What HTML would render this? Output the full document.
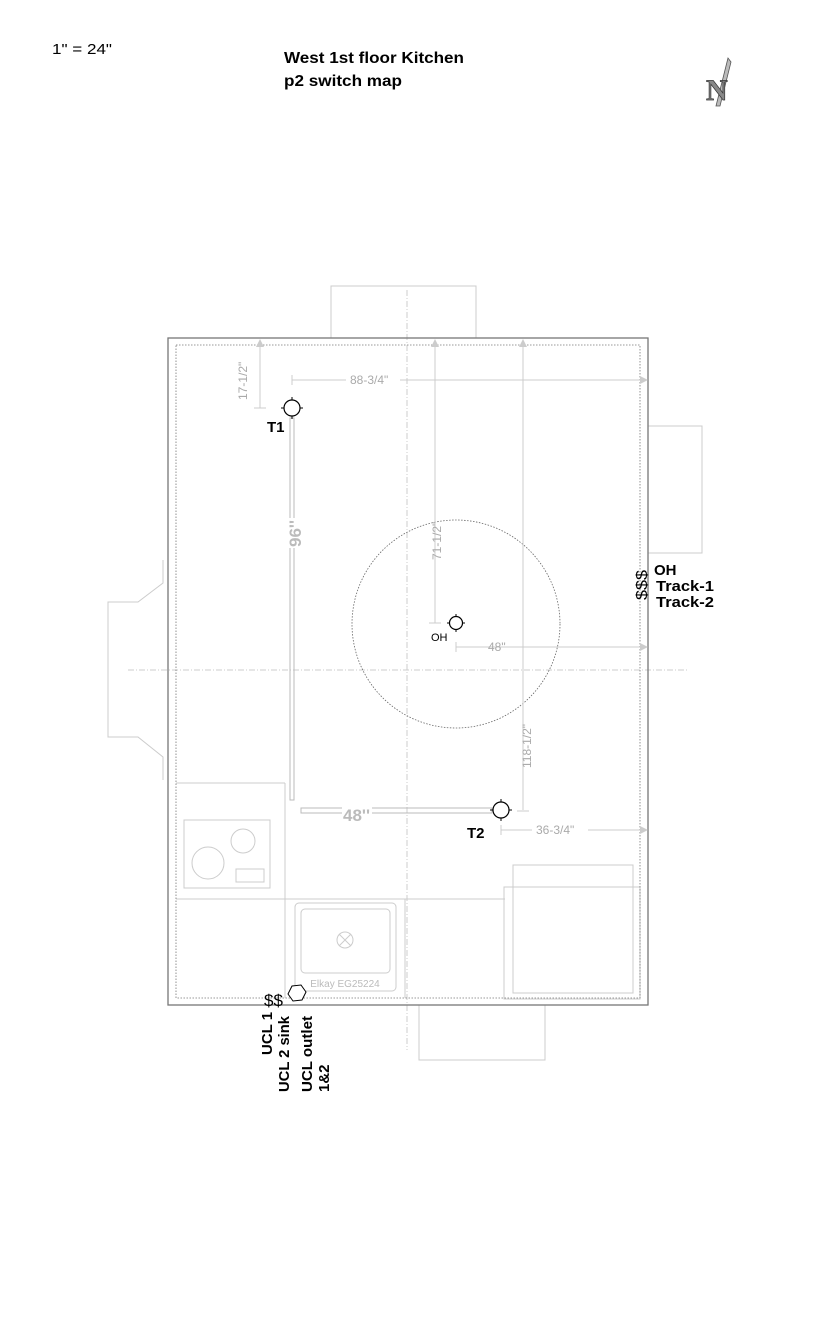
<!DOCTYPE html>
<html><head><meta charset="utf-8"><style>html,body{margin:0;padding:0;background:#fff}svg{display:block}</style></head><body>
<svg width="816" height="1344" viewBox="0 0 816 1344" xmlns="http://www.w3.org/2000/svg" font-family="Liberation Sans, sans-serif">
<text x="52" y="54" font-size="15" textLength="60" lengthAdjust="spacingAndGlyphs">1" = 24"</text>
<text x="284" y="63" font-size="16" font-weight="bold" textLength="180" lengthAdjust="spacingAndGlyphs">West 1st floor Kitchen</text>
<text x="284" y="86" font-size="16" font-weight="bold" textLength="118" lengthAdjust="spacingAndGlyphs">p2 switch map</text>
<g>
<path d="M728 58 L716 106 L720 106 L731 62 Z" fill="#bbb" stroke="#555" stroke-width="0.8"/>
<text x="706" y="100" font-size="30" font-weight="bold" font-family="Liberation Serif, serif" fill="#888" stroke="#333" stroke-width="0.7">N</text>
</g>
<g fill="none" stroke="#ccc" stroke-width="1">
<rect x="331" y="286" width="145" height="52"/>
<rect x="648" y="426" width="54" height="127"/>
<rect x="419" y="1005" width="126" height="55"/>
<polyline points="163,560 163,583 138,602 108,602 108,737 138,737 163,757 163,780"/>
<line x1="176" y1="783" x2="285" y2="783"/>
<line x1="176" y1="899" x2="505" y2="899"/>
<line x1="285" y1="783" x2="285" y2="998"/>
<line x1="405" y1="899" x2="405" y2="998"/>
<rect x="184" y="820" width="86" height="68"/>
<circle cx="208" cy="863" r="16"/>
<circle cx="243" cy="841" r="12"/>
<rect x="236" y="869" width="28" height="13"/>
<rect x="295" y="903" width="101" height="88" rx="4"/>
<rect x="301" y="909" width="89" height="64" rx="4"/>
<circle cx="345" cy="940" r="8"/>
<line x1="339" y1="934" x2="351" y2="946"/><line x1="351" y1="934" x2="339" y2="946"/>
<rect x="504" y="887" width="136" height="112"/>
<rect x="513" y="865" width="120" height="128"/>
</g>
<text x="345" y="987" font-size="10" fill="#bbb" text-anchor="middle">Elkay EG25224</text>
<g stroke="#ccc" stroke-width="1" stroke-dasharray="6,2,1,2" fill="none">
<line x1="407" y1="290" x2="407" y2="1050"/>
<line x1="128" y1="670" x2="688" y2="670"/>
</g>
<rect x="168" y="338" width="480" height="667" fill="none" stroke="#777" stroke-width="1.3"/>
<rect x="176" y="345" width="464" height="653" fill="none" stroke="#777" stroke-width="0.8" stroke-dasharray="1.5,1.5"/>
<circle cx="456" cy="624" r="104" fill="none" stroke="#666" stroke-width="0.8" stroke-dasharray="1.5,1.5"/>
<g stroke="#ccc" stroke-width="1" fill="none">
<line x1="260" y1="342" x2="260" y2="408"/><line x1="254" y1="408" x2="266" y2="408"/>
<line x1="292" y1="375" x2="292" y2="385"/><line x1="292" y1="380" x2="645" y2="380"/>
<line x1="435" y1="342" x2="435" y2="623"/><line x1="429" y1="623" x2="441" y2="623"/>
<line x1="456" y1="642" x2="456" y2="652"/><line x1="456" y1="647" x2="645" y2="647"/>
<line x1="523" y1="342" x2="523" y2="810"/><line x1="517" y1="811" x2="529" y2="811"/>
<line x1="501" y1="825" x2="501" y2="835"/><line x1="501" y1="830" x2="645" y2="830"/>
<rect x="290" y="418" width="4" height="382" stroke="#bbb"/>
<rect x="301" y="808" width="191" height="5" stroke="#bbb"/>
</g>
<g fill="#ccc">
<path d="M260 339 l-4 8 l8 0 z"/><path d="M435 339 l-4 8 l8 0 z"/><path d="M523 339 l-4 8 l8 0 z"/>
<path d="M648 380 l-8 -4 l0 8 z"/><path d="M648 647 l-8 -4 l0 8 z"/><path d="M648 830 l-8 -4 l0 8 z"/>
</g>
<g font-size="12" fill="#aaa">
<rect x="346" y="373" width="54" height="12" fill="#fff"/>
<text x="350" y="384">88-3/4"</text>
<text x="488" y="651">48"</text>
<rect x="532" y="823" width="56" height="12" fill="#fff"/>
<text x="536" y="834">36-3/4"</text>
<text transform="translate(247,400) rotate(-90)">17-1/2"</text>
<text transform="translate(441,560) rotate(-90)">71-1/2"</text>
<text transform="translate(531,768) rotate(-90)">118-1/2"</text>
</g>
<g font-size="17" font-weight="bold" fill="#bbb">
<rect x="287" y="518" width="14" height="30" fill="#fff"/>
<text transform="translate(301,547) rotate(-90)">96''</text>
<rect x="342" y="805" width="30" height="16" fill="#fff"/>
<text x="343" y="821">48''</text>
</g>
<g stroke="#000" stroke-width="1.2" fill="#fff">
<circle cx="292" cy="408" r="8"/><circle cx="501" cy="810" r="8"/><circle cx="456" cy="623" r="6.5"/>
</g>
<g stroke="#000" stroke-width="1">
<line x1="292" y1="397" x2="292" y2="400"/><line x1="292" y1="416" x2="292" y2="419"/><line x1="281" y1="408" x2="284" y2="408"/><line x1="300" y1="408" x2="303" y2="408"/>
<line x1="501" y1="799" x2="501" y2="802"/><line x1="501" y1="818" x2="501" y2="821"/><line x1="490" y1="810" x2="493" y2="810"/><line x1="509" y1="810" x2="512" y2="810"/>
<line x1="456" y1="614" x2="456" y2="616"/><line x1="456" y1="630" x2="456" y2="632"/><line x1="447" y1="623" x2="449" y2="623"/><line x1="463" y1="623" x2="465" y2="623"/>
</g>
<g font-weight="bold" font-size="15">
<text x="267" y="432">T1</text>
<text x="467" y="838">T2</text>
<text x="654" y="575">OH</text>
<text x="656" y="591" textLength="58" lengthAdjust="spacingAndGlyphs">Track-1</text>
<text x="656" y="607" textLength="58" lengthAdjust="spacingAndGlyphs">Track-2</text>
<text transform="translate(272,1055) rotate(-90)">UCL 1</text>
<text transform="translate(289,1092) rotate(-90)" textLength="76" lengthAdjust="spacingAndGlyphs">UCL 2 sink</text>
<text transform="translate(312,1092) rotate(-90)" textLength="76" lengthAdjust="spacingAndGlyphs">UCL outlet</text>
<text transform="translate(329,1092) rotate(-90)">1&amp;2</text>
</g>
<text x="431" y="641" font-size="11">OH</text>
<text transform="translate(647,600) rotate(-90)" font-size="16" textLength="30" lengthAdjust="spacingAndGlyphs">$$$</text>
<text x="264" y="1006" font-size="17">$$</text>
<polygon points="292,986 301,985 306,992 302,1000 293,1001 288,994" fill="#fff" stroke="#000" stroke-width="1"/>
</svg>
</body></html>
